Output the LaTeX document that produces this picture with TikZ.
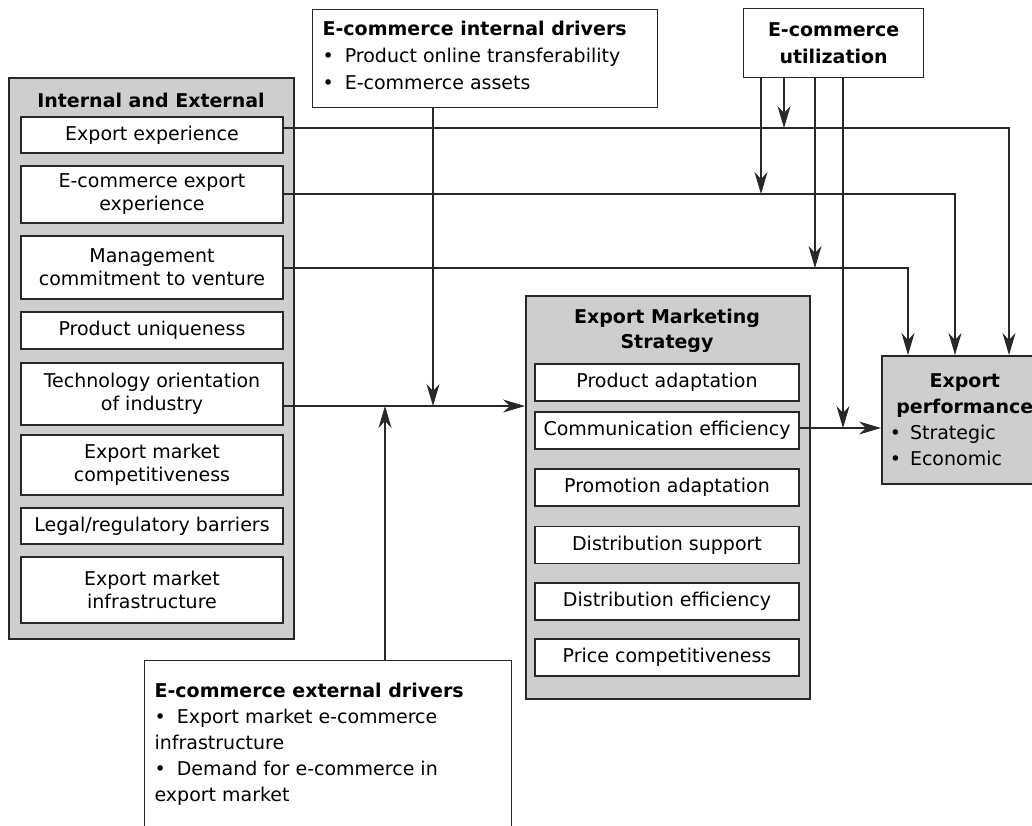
\documentclass[tikz,border=0pt]{standalone}
\usepackage{fontspec}
\setmainfont{DejaVu Sans}
\usetikzlibrary{arrows.meta}
\definecolor{boxgray}{RGB}{206,206,206}
\definecolor{ink}{RGB}{40,40,40}
\newcommand{\bul}{\textbullet\hspace{11pt}}
\begin{document}
\begin{tikzpicture}[x=1pt,y=-1pt,
  font=\fontsize{19}{23}\selectfont,
  grp/.style={draw=ink, line width=1.6pt, fill=boxgray, inner sep=0pt},
  item/.style={draw=ink, line width=1.2pt, fill=white, align=center, inner sep=0pt, minimum width=262pt},
  mitem/.style={item, minimum width=264pt, minimum height=37pt},
  head/.style={font=\fontsize{19}{25}\selectfont\bfseries, align=center, inner sep=0pt},
  plain/.style={draw=ink, line width=1.2pt, fill=white},
  link/.style={line width=1.2pt, draw=ink},
  arr/.style={link, -{Stealth[length=22pt,width=13pt,inset=7pt]}}]
\useasboundingbox (0,0) rectangle (1032,825);

% antecedents
\node[grp, anchor=north west, minimum width=285pt, minimum height=561pt] (ie) at (8,77) {};
\node[head] (ietitle) at (151,100) {Internal and External};
\node[item, minimum height=36pt] (e1) at (152,135) {Export experience};
\node[item, minimum height=57pt] (e2) at (152,194.5) {E-commerce export\\experience};
\node[item, minimum height=63pt] (e3) at (152,267.5) {Management\\commitment to venture};
\node[item, minimum height=37pt] (e4) at (152,330.5) {Product uniqueness};
\node[item, minimum height=62pt] (e5) at (152,394) {Technology orientation\\of industry};
\node[item, minimum height=60pt] (e6) at (152,465) {Export market\\competitiveness};
\node[item, minimum height=36pt] (e7) at (152,526) {Legal/regulatory barriers};
\node[item, minimum height=66pt] (e8) at (152,590) {Export market\\infrastructure};

% marketing strategy
\node[grp, anchor=north west, minimum width=284pt, minimum height=403pt] (ms) at (525,295) {};
\node[head] (mstitle) at (667,331) {Export Marketing\\Strategy};
\node[mitem] (m1) at (667,382.5) {Product adaptation};
\node[mitem] (m2) at (667,430.5) {Communication efficiency};
\node[mitem] (m3) at (667,487.5) {Promotion adaptation};
\node[mitem] (m4) at (667,545) {Distribution support};
\node[mitem] (m5) at (667,601.5) {Distribution efficiency};
\node[mitem] (m6) at (667,657.5) {Price competitiveness};

% drivers
\node[plain, anchor=north west, inner xsep=10pt, inner ysep=0pt] (idr) at (312,9)
  {\parbox[t][98pt][t]{325pt}{\fontsize{19}{27}\selectfont\raggedright\vspace*{11pt}%
   \textbf{E-commerce internal drivers}\\\bul Product online transferability\\\bul E-commerce assets}};
\node[plain, anchor=north west, inner xsep=10pt, inner ysep=0pt] (edr) at (144,660)
  {\parbox[t][190pt][t]{347pt}{\fontsize{19}{26}\selectfont\raggedright\vspace*{22pt}%
   \textbf{E-commerce external drivers}\\\bul Export market e-commerce\\infrastructure\\\bul Demand for e-commerce in\\export market}};

% utilization and performance
\node[plain, anchor=north west, minimum width=180pt, minimum height=69pt, align=center, inner sep=0pt,
  font=\fontsize{19}{27}\selectfont\bfseries] (util) at (743,8) {E-commerce\\utilization};
\node[grp, anchor=north west, inner xsep=8pt, inner ysep=0pt, minimum height=128pt] (perf) at (881,355)
  {\parbox[c]{150pt}{\fontsize{19}{26}\selectfont
   {\centering\bfseries Export\\performance\par}\raggedright
   \textbullet\hspace{9pt}Strategic\\\textbullet\hspace{9pt}Economic}};

% junctions where utilization moderates the direct paths
\coordinate (j1) at (784,128);
\coordinate (j2) at (761,194);
\coordinate (j3) at (815,268);
\coordinate (j4) at (843,428);
\coordinate (j5) at (433,406);
\coordinate (j6) at (385,406);

% direct paths to performance
\draw[arr] (e1.east |- j1) -| (perf.north -| 1009,0);
\draw[arr] (e2.east |- j2) -| (perf.north -| 955,0);
\draw[arr] (e3.east |- j3) -| (perf.north -| 908,0);

% path to strategy
\draw[arr] (e5.east |- j5) -- (ms.west |- j5);
\draw[arr] (idr.south -| j5) -- (j5);
\draw[arr] (edr.north -| j6) -- (j6);

% strategy to performance
\draw[arr] (m2.east |- j4) -- (perf.west |- j4);

% moderating arrows
\draw[arr] (util.south -| j1) -- (j1);
\draw[arr] (util.south -| j2) -- (j2);
\draw[arr] (util.south -| j3) -- (j3);
\draw[arr] (util.south -| j4) -- (j4);
\end{tikzpicture}
\end{document}
